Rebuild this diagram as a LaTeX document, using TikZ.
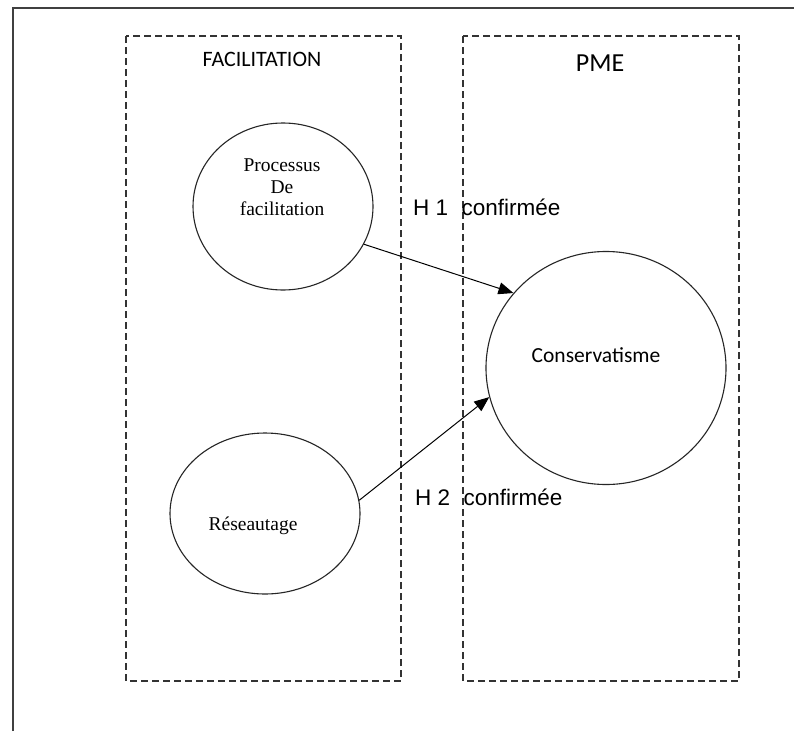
\documentclass[tikz,border=0pt]{standalone}
\usepackage{fontspec}
\setmainfont{Liberation Serif}
\newfontfamily\calib{Carlito}
\newfontfamily\arial{Liberation Sans}
\usetikzlibrary{shapes.geometric,arrows.meta}
\begin{document}
\begin{tikzpicture}[x=1pt,y=-1pt,
  frame/.style={draw=black!75,line width=1.4pt},
  group/.style={draw=black!80,line width=1.1pt,dash pattern=on 7pt off 4pt},
  bubble/.style={draw=black!85,line width=1.1pt,ellipse,inner sep=0pt},
  sertext/.style={font=\fontsize{19.5}{22}\selectfont,align=center,inner sep=0pt},
  caltext/.style={font=\calib\fontsize{22}{26}\selectfont,inner sep=0pt},
  hyp/.style={font=\arial\fontsize{22.5}{26}\selectfont,inner sep=0pt,anchor=base west},
  link/.style={draw=black,line width=1pt,-{Triangle[length=15pt,width=12pt]}}]
\useasboundingbox (0,0) rectangle (794,731);
\fill[white] (0,0) rectangle (794,731);
% outer frame (left and top edges visible)
\draw[frame] (13,731) -- (13,8) -- (794,8);
% dashed groups
\draw[group] (126,36) rectangle (401,681);
\draw[group] (463,36) rectangle (739,681);
\node[caltext,anchor=base] (facil) at (262,66) {FACILITATION};
\node[caltext,anchor=base,font=\calib\fontsize{26}{30}\selectfont] (pme) at (600,71) {PME};
% bubbles
\node[bubble,minimum width=180pt,minimum height=167pt] (proc) at (283,206.5) {};
\node[sertext] (proct) at (282,187) {Processus\\De\\facilitation};
\node[bubble,minimum width=190pt,minimum height=161pt] (res) at (265,513.5) {};
\node[sertext,anchor=base] (rest) at (253,530) {Réseautage};
\node[bubble,minimum width=240pt,minimum height=233pt] (cons) at (606,368) {};
\node[caltext,anchor=base,font=\calib\fontsize{21.5}{26}\selectfont] (const) at (596,362) {Conservatisme};
% links
\draw[link] (proc.-25.4) -- (cons.141);
\draw[link] (res.8.9) -- (cons.194.6);
\node[hyp] (h1) at (413,215) {H 1\hspace{0.6em}confirmée};
\node[hyp] (h2) at (415,505) {H 2\hspace{0.6em}confirmée};
\end{tikzpicture}
\end{document}
